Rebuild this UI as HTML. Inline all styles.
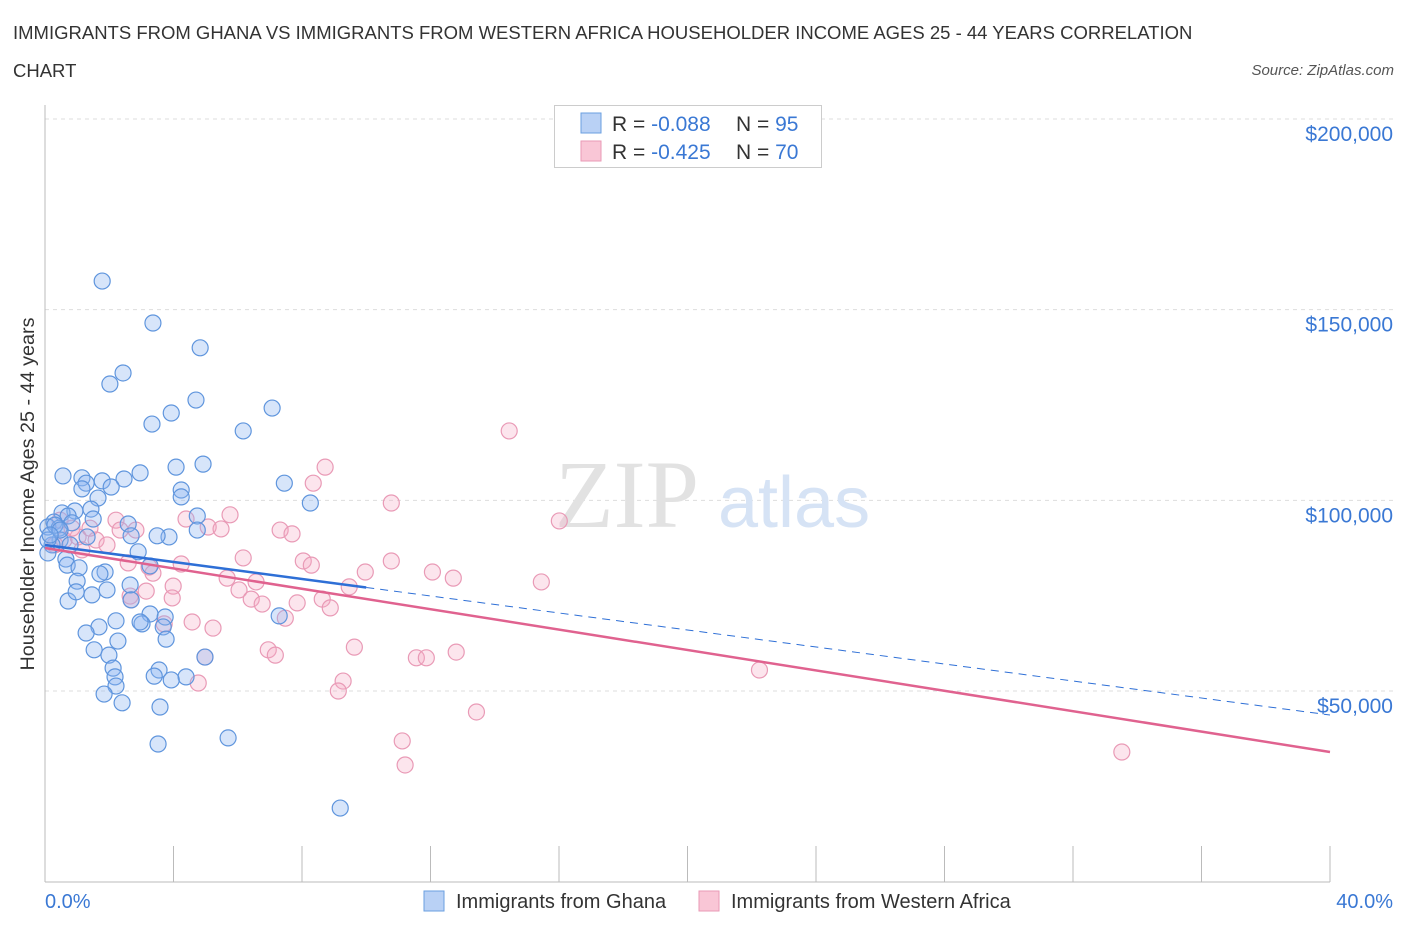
<!DOCTYPE html>
<html><head><meta charset="utf-8"><style>
body{margin:0;background:#fff;font-family:"Liberation Sans",sans-serif;}
#wrap{position:relative;width:1406px;height:930px;overflow:hidden;}
.t{position:absolute;white-space:nowrap;}
</style></head><body>
<div id="wrap">
<div class="t" style="left:13px;top:14px;font-size:18.5px;color:#333;line-height:38px;width:1215px;white-space:normal">IMMIGRANTS FROM GHANA VS IMMIGRANTS FROM WESTERN AFRICA HOUSEHOLDER INCOME AGES 25 - 44 YEARS CORRELATION CHART</div>
<div class="t" style="right:12px;top:62px;font-size:15px;color:#555;font-style:italic">Source: ZipAtlas.com</div>
<svg id="svg" width="1406" height="930" style="position:absolute;left:0;top:0"></svg>
</div>
<script>
const yTicks=[50000,100000,150000,200000];
const yTickLabels=["$50,000","$100,000","$150,000","$200,000"];
const xTickLabels=["0.0%","40.0%"];
const ghanaX=[1.78,3.36,4.83,2.43,2.02,4.70,7.07,3.93,3.33,6.17,4.92,4.08,0.56,1.15,1.28,1.78,2.96,2.46,2.06,7.45,4.24,1.15,1.65,4.24,8.26,1.43,0.93,0.53,0.72,4.74,1.50,0.28,0.09,0.44,0.84,2.59,4.74,3.86,3.49,2.68,1.31,0.47,0.22,0.09,2.90,0.65,0.69,1.06,3.27,1.87,1.71,1.0,2.65,0.72,1.46,1.93,0.97,2.68,3.27,3.74,3.02,2.21,7.29,3.68,1.68,1.28,3.77,2.27,1.53,1.99,2.12,3.55,4.39,3.40,3.93,2.18,2.21,1.84,2.40,3.58,5.70,3.52,9.19,4.98,2.96,0.09,0.31,0.47,0.16,0.78];
const ghanaY=[157.5,146.5,140,133.4,130.5,126.3,124.2,122.9,120,118.2,109.5,108.7,106.4,105.9,104.5,105.1,107.2,105.6,103.5,104.5,102.7,103,100.6,100.9,99.3,97.7,97.2,96.7,95.9,95.9,95.1,94.3,93,92.7,94.1,93.8,92.2,90.4,90.7,90.7,90.4,89.6,88.3,86.2,86.5,84.6,83,82.3,82.8,81.2,80.7,78.8,77.8,73.6,75.2,76.5,76,73.9,70.2,69.4,67.6,68.4,69.7,66.8,66.8,65.2,63.6,63.1,60.8,59.4,56,55.5,53.7,53.9,52.9,53.7,51.3,49.2,46.9,45.8,37.7,36.1,19.3,58.9,68.1,89.6,93.5,92.2,90.9,88.3];
const waX=[14.45,8.72,8.35,10.78,16.01,4.39,5.76,2.21,5.08,5.48,7.32,2.83,7.69,1.03,0.59,1.59,1.93,6.17,8.04,2.59,8.29,4.24,3.24,10.78,3.36,9.97,12.06,12.71,15.45,5.67,6.57,9.47,3.99,3.15,2.65,6.04,6.42,8.63,6.76,7.85,3.96,8.88,2.68,7.48,4.58,3.71,5.23,9.63,6.95,7.17,12.80,11.56,11.87,4.98,22.24,4.77,9.28,9.13,13.43,11.12,11.21,33.52,0.47,0.84,1.40,0.31,2.34,1.15];
const waY=[118.2,108.7,104.5,99.3,94.6,95.1,96.2,94.8,93,92.5,92.2,92.2,91.2,90.4,89.6,89.6,88.3,84.9,84.1,83.6,83,83.3,82.5,84.1,80.9,81.2,81.2,79.6,78.6,79.6,78.6,77.3,77.5,76.2,74.9,76.5,74.1,74.1,72.8,73.1,74.4,71.8,73.9,69.1,68.1,67.6,66.5,61.5,60.8,59.4,60.2,58.7,58.7,58.9,55.5,52.1,52.6,50,44.5,36.9,30.6,34,94.8,92.7,92.7,88.3,92.2,87];
const trendGhana=[88.3,43.7]; // value (k) at x=0 and x=40
const trendWA=[87.5,34];
const X0=45,X1=1330,yTop=119,y50=691;
function xs(p){return X0+(X1-X0)*p/40;}
function ys(k){return y50-(k-50)*(y50-yTop)/150;}
const svg=document.getElementById('svg');const NS='http://www.w3.org/2000/svg';
function mk(tag,attrs,parent){const e=document.createElementNS(NS,tag);for(const k in attrs)e.setAttribute(k,attrs[k]);(parent||svg).appendChild(e);return e;}
yTicks.forEach((v,i)=>{
 const y=ys(v/1000);
 const g=mk('line',{x1:45,x2:1395,y1:y,y2:y,stroke:'#ddd','stroke-dasharray':'4,4'});
 
 
 const t=mk('text',{x:1393,y:y+22,'text-anchor':'end','font-size':21,fill:'#3a78d4','font-family':'Liberation Sans'});
 t.textContent=yTickLabels[i];
 
 
});
const ax=mk('line',{x1:45,x2:1330,y1:882,y2:882,stroke:'#bbb'});


const ay=mk('line',{x1:45,x2:45,y1:105,y2:882,stroke:'#bbb'});


for(let i=0;i<=10;i++){const x=xs(i*4);const tk=mk('line',{x1:x,x2:x,y1:846,y2:882,stroke:'#bbb'});
 
 }
const wm1=mk('text',{x:555,y:527,'font-size':96,fill:'#e2e2e2','font-family':'Liberation Serif'});wm1.textContent='ZIP';


const wm2=mk('text',{x:718,y:527,'font-size':72,fill:'#d6e3f5','font-family':'Liberation Sans'});wm2.textContent='atlas';


function pts(X,Y,fill,stroke,name){for(let i=0;i<X.length;i++){const c=mk('circle',{cx:xs(X[i]),cy:ys(Y[i]),r:8,fill:fill,stroke:stroke,'stroke-width':1.2});
 
 }}
pts(waX,waY,'rgba(244,170,196,0.3)','#e99ab6','point-western-africa');
pts(ghanaX,ghanaY,'rgba(140,180,240,0.35)','#5f95dd','point-ghana');
const xe=10;
const vG=p=>trendGhana[0]+(trendGhana[1]-trendGhana[0])*p/40;
const l1=mk('line',{x1:xs(0),y1:ys(vG(0)),x2:xs(xe),y2:ys(vG(xe)),stroke:'#2e6fd6','stroke-width':2.5});


const l2=mk('line',{x1:xs(xe),y1:ys(vG(xe)),x2:xs(40),y2:ys(vG(40)),stroke:'#2e6fd6','stroke-width':1,'stroke-dasharray':'8,6'});


const l3=mk('line',{x1:xs(0),y1:ys(trendWA[0]),x2:xs(40),y2:ys(trendWA[1]),stroke:'#e0628f','stroke-width':2.5});


const xl0=mk('text',{x:45,y:908,'font-size':20,fill:'#3a78d4','font-family':'Liberation Sans'});xl0.textContent=xTickLabels[0];


const xl1=mk('text',{x:1393,y:908,'text-anchor':'end','font-size':20,fill:'#3a78d4','font-family':'Liberation Sans'});xl1.textContent=xTickLabels[1];


const yt=mk('text',{x:0,y:0,transform:'translate(34,494) rotate(-90)','text-anchor':'middle','font-size':19.8,fill:'#333','font-family':'Liberation Sans'});yt.textContent='Householder Income Ages 25 - 44 years';


const lb=mk('rect',{x:554.5,y:105.5,width:267,height:62,fill:'#fff',stroke:'#ccc'});


[[0,'#b9d1f5','#6a9fe0','-0.088','95'],[1,'#f9c6d6','#e99ab6','-0.425','70']].forEach(r=>{
 const y=113+r[0]*28;
 const s=mk('rect',{x:581,y:y,width:20,height:20,fill:r[1],stroke:r[2]});
 
 
 const t=mk('text',{x:612,y:y+18,'font-size':21,fill:'#333','font-family':'Liberation Sans'});
 t.innerHTML='R = <tspan fill="#3a78d4">'+r[3]+'</tspan><tspan x="736">N = </tspan><tspan fill="#3a78d4">'+r[4]+'</tspan>';
 
 
});
[[424,'#b9d1f5','#6a9fe0','Immigrants from Ghana','legend-ghana'],[699,'#f9c6d6','#e99ab6','Immigrants from Western Africa','legend-western-africa']].forEach(r=>{
 const s=mk('rect',{x:r[0],y:891,width:20,height:20,fill:r[1],stroke:r[2]});
 
 
 const t=mk('text',{x:r[0]+32,y:908,'font-size':20,fill:'#333','font-family':'Liberation Sans'});t.textContent=r[3];
 
 
});
</script>
</body></html>
